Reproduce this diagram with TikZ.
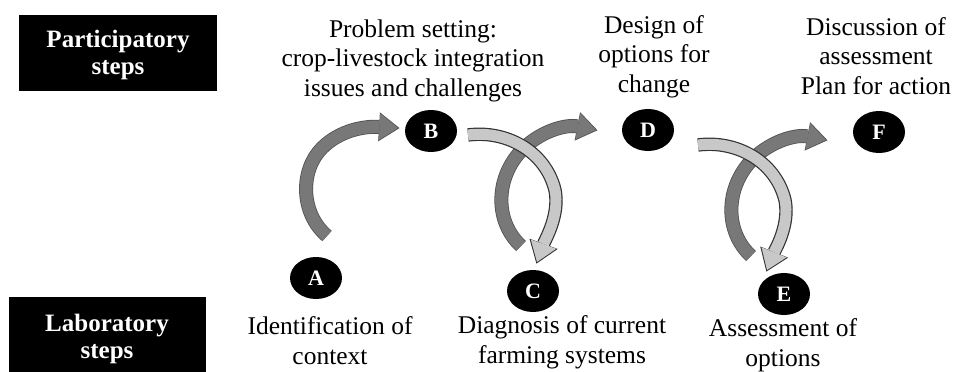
\documentclass[tikz,border=0pt]{standalone}
\usepackage{fontspec}
\setmainfont{Liberation Serif}
\usetikzlibrary{arrows.meta,shapes.geometric}
\definecolor{darkfill}{RGB}{120,120,120}
\definecolor{darkedge}{RGB}{80,80,80}
\definecolor{lightfill}{RGB}{200,200,200}
\definecolor{lightedge}{RGB}{50,50,50}
\tikzset{
  steptext/.style={font=\fontsize{25.5}{29.5}\selectfont, align=center, anchor=base, inner sep=0pt},
  boxtext/.style={font=\fontsize{25}{27}\selectfont\bfseries, text=white, align=center, anchor=base, inner sep=0pt},
  stepnode/.style={ellipse, fill=black, minimum width=52pt, minimum height=42pt, inner sep=0pt, text=white, font=\fontsize{22}{24}\selectfont\bfseries},
  blackbox/.style={fill=black, inner sep=0pt, anchor=north west},
  darkout/.style={draw=darkedge, line width=14pt, shorten >=-1.5pt, -{Triangle[width=29pt,length=20.5pt,line width=0pt]}},
  darkin/.style={draw=darkfill, line width=12.4pt, -{Triangle[width=26.5pt,length=18.5pt,line width=0pt]}},
  lightout/.style={draw=lightedge, line width=13.4pt, shorten >=-1.7pt, -{Triangle[width=30pt,length=21pt,line width=0pt]}},
  lightin/.style={draw=lightfill, line width=11pt, -{Triangle[width=27pt,length=19pt,line width=0pt]}},
}
\newcommand\darkarw[1]{\draw[darkout] #1; \draw[darkin] #1;}
\newcommand\lightarw[1]{\draw[lightout] #1; \draw[lightin] #1;}
\begin{document}
\begin{tikzpicture}[x=1pt,y=-1pt]
\useasboundingbox (0,0) rectangle (953,372);
% side boxes
\node[blackbox, minimum width=198pt, minimum height=76pt] (pbox) at (19,15) {};
\node[boxtext] (ptext) at (118,74) {Participatory\\steps};
\node[blackbox, minimum width=197pt, minimum height=90pt] (lbox) at (9,297) {};
\node[boxtext] (ltext) at (107,358) {Laboratory\\steps};
% step circles
\node[stepnode] (A) at (316,278) {A};
\node[stepnode] (B) at (431,131) {B};
\node[stepnode] (C) at (533,291) {C};
\node[stepnode] (D) at (648,130) {D};
\node[stepnode] (E) at (784,294) {E};
\node[stepnode] (F) at (879,132) {F};
% step texts (anchored at the baseline of the last line)
\node[steptext] (tB) at (413,96) {Problem setting:\\crop-livestock integration\\issues and challenges};
\node[steptext] (tD) at (654,92) {Design of\\options for\\change};
\node[steptext] (tF) at (876,94) {Discussion of\\assessment\\Plan for action};
\node[steptext] (tA) at (330,364) {Identification of\\context};
\node[steptext] (tC) at (562,363) {Diagnosis of current\\farming systems};
\node[steptext] (tE) at (783,366) {Assessment of\\options};
% arrow end points
\coordinate (abS) at (327,236); \coordinate (abE) at (398,128);
\coordinate (bcS) at (468,135); \coordinate (bcE) at (537,262);
\coordinate (cdS) at (521,246); \coordinate (cdE) at (596,130);
\coordinate (deS) at (698,145); \coordinate (deE) at (767,270);
\coordinate (efS) at (751,256); \coordinate (efE) at (826,140);
% arrows
\darkarw{(abS) .. controls (300,213) and (300,170) .. (322,148) .. controls (340,130) and (365,126) .. (abE)}
\darkarw{(cdS) .. controls (495,222) and (495,180) .. (520,152) .. controls (538,132) and (565,124) .. (cdE)}
\lightarw{(bcS) .. controls (505,130) and (545,150) .. (555,190) .. controls (560,215) and (545,240) .. (bcE)}
\darkarw{(efS) .. controls (725,232) and (725,190) .. (750,162) .. controls (768,142) and (795,134) .. (efE)}
\lightarw{(deS) .. controls (735,140) and (775,160) .. (785,200) .. controls (790,225) and (775,250) .. (deE)}
\end{tikzpicture}
\end{document}
